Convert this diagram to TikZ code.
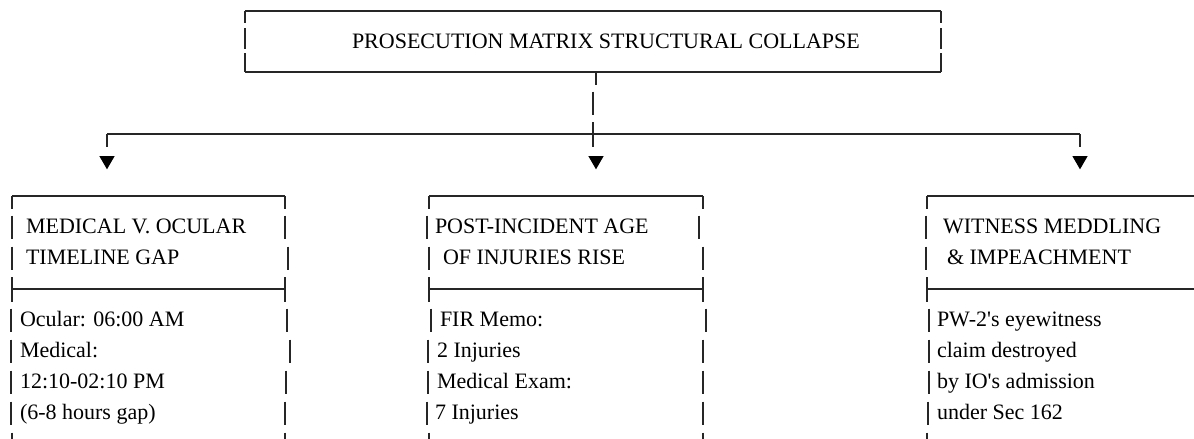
\documentclass[tikz,border=0pt]{standalone}
\usepackage{fontspec}
\setmainfont{Liberation Serif}
\usepackage{tikz}
\usetikzlibrary{shapes.geometric,positioning}
\tikzstyle{hseg}    =[line width=1.8pt, draw=black!85]
\tikzstyle{vseg}    =[line width=2.4pt, draw=black!85]
\tikzstyle{cell}    =[inner sep=0pt, outer sep=0pt, anchor=base west,
                      font=\fontsize{22}{31}\selectfont]
\tikzstyle{downtip} =[regular polygon, regular polygon sides=3,
                      shape border rotate=180, fill=black, draw=none,
                      minimum size=17.5pt, inner sep=0pt]

\begin{document}
\begin{tikzpicture}[x=1pt, y=-1pt]
  \useasboundingbox (0,0) rectangle (1194,439);
  \begin{scope}
    \clip (0,0) rectangle (1194,439);

    % title box
    \draw[hseg] (245,11) -- (941,11);
    \draw[hseg] (245,72) -- (941,72);
    \foreach \x in {245,941} {
      \draw[vseg] (\x,11) -- (\x,23);
      \draw[vseg] (\x,28) -- (\x,49);
      \draw[vseg] (\x,53) -- (\x,72);
    }
    \node[cell] (title) at (352,48) {PROSECUTION MATRIX STRUCTURAL COLLAPSE};

    % stem and bus
    \coordinate (tb) at (596,72);
    \coordinate (tc) at (596,85);
    \coordinate (hub) at (593,134);
    \coordinate (bl) at (107,134);
    \coordinate (br) at (1080,134);
    \coordinate (kl) at (107,147);
    \coordinate (km) at (593,147);
    \coordinate (kr) at (1080,147);
    \draw[vseg] (tb) -- (tc);
    \draw[vseg] (593,91.5) -- (593,115);
    \draw[hseg] (bl) -- (br);
    \draw[vseg] (bl) -- (kl);
    \draw[vseg] (hub) ++(0,-12) -- (km);
    \draw[vseg] (br) -- (kr);
    \node[downtip] (al) [below=9pt of kl] {};
    \node[downtip] (am) [below=9pt of km, xshift=3pt] {};
    \node[downtip] (ar) [below=9pt of kr] {};

    % box tops and dividers
    \draw[hseg] (12,196) -- (285,196);
    \draw[hseg] (12,289) -- (285,289);
    \draw[hseg] (429,196) -- (703,196);
    \draw[hseg] (429,289) -- (703,289);
    \draw[hseg] (927,196) -- (1194,196);
    \draw[hseg] (927,289) -- (1194,289);
    \foreach \x in {12,285,429,703,927} {
      \draw[vseg] (\x,196) -- (\x,209);
      \draw[vseg] (\x,277) -- (\x,302);
    }

    % box sides, one piece per text row
    \foreach \r/\a/\b in {7/12/285, 8/12/288, 10/11/287, 11/11/290,
                          12/11/286, 13/11/285, 14/12/285}
      \draw[vseg] (\a,31*\r-1.5) -- ++(0,23.5) (\b,31*\r-1.5) -- ++(0,23.5);
    \foreach \r/\a/\b in {7/427/699, 8/429/703, 10/431/706, 11/428/703,
                          12/428/703, 13/427/703, 14/429/703}
      \draw[vseg] (\a,31*\r-1.5) -- ++(0,23.5) (\b,31*\r-1.5) -- ++(0,23.5);
    \foreach \r/\a in {7/926, 8/926, 10/929, 11/929, 12/929, 13/928, 14/927}
      \draw[vseg] (\a,31*\r-1.5) -- ++(0,23.5);

    % left box
    \node[cell] (lh1) at (26,233.5) {MEDICAL V. OCULAR};
    \node[cell] (lh2) at (26,264.5) {TIMELINE GAP};
    \node[cell] (lb1) at (20,326.5) {Ocular: 06:00 AM};
    \node[cell] (lb2) at (20,357.5) {Medical:};
    \node[cell] (lb3) at (20,388.5) {12:10-02:10 PM};
    \node[cell] (lb4) at (20,419.5) {(6-8 hours gap)};

    % middle box
    \node[cell] (mh1) at (435,233.5) {POST-INCIDENT AGE};
    \node[cell] (mh2) at (443,264.5) {OF INJURIES RISE};
    \node[cell] (mb1) at (440,326.5) {FIR Memo:};
    \node[cell] (mb2) at (437,357.5) {2 Injuries};
    \node[cell] (mb3) at (437,388.5) {Medical Exam:};
    \node[cell] (mb4) at (435,419.5) {7 Injuries};

    % right box
    \node[cell] (rh1) at (943,233.5) {WITNESS MEDDLING};
    \node[cell] (rh2) at (947,264.5) {\& IMPEACHMENT};
    \node[cell] (rb1) at (937,326.5) {PW-2\textquotesingle s eyewitness};
    \node[cell] (rb2) at (937,357.5) {claim destroyed};
    \node[cell] (rb3) at (937,388.5) {by IO\textquotesingle s admission};
    \node[cell] (rb4) at (937,419.5) {under Sec 162};
  \end{scope}
\end{tikzpicture}
\end{document}
